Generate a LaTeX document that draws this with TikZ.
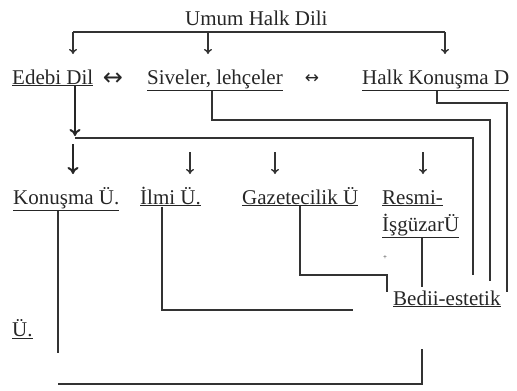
\documentclass[tikz,border=0pt]{standalone}
\usepackage{fontspec}
\setmainfont{Liberation Serif}
\newfontfamily\symfont{DejaVu Sans}
\usetikzlibrary{arrows.meta}
\begin{document}
\begin{tikzpicture}[x=1pt,y=-1pt,
  lbl/.style={inner sep=0pt,anchor=base west,text=black!85,font=\fontsize{21}{23}\selectfont},
  sym/.style={inner sep=0pt,anchor=center,text=black!85},
  ln/.style={line width=1.4pt,draw=black!80},
  arr/.style={ln,-{To[length=5pt,width=8pt]}},
  bigarr/.style={line width=2pt,draw=black!85,-{To[length=7pt,width=11pt]}}]
\useasboundingbox (0,0) rectangle (517,391);
% text nodes
\node[lbl] (umum) at (185,25) {Umum Halk Dili};
\node[lbl] (edebi) at (12,84) {\underline{Edebi Dil}};
\node[sym,font=\symfont\fontsize{24}{26}\selectfont] (lr1) at (113,79) {↔};
\node[lbl] (siv) at (147,84) {\underline{Siveler, lehçeler}};
\node[sym,font=\symfont\fontsize{17}{19}\selectfont] (lr2) at (312,79) {↔};
\node[lbl] (hk) at (362,84) {\underline{Halk Konuşma D}};
\node[lbl] (kon) at (13,204) {\underline{Konuşma Ü.}};
\node[lbl] (ilmi) at (140,204) {\underline{İlmi Ü.}};
\node[lbl] (gaz) at (242,204) {\underline{Gazetecilik Ü}};
\node[lbl] (resmi) at (382,204) {\underline{Resmi-}};
\node[lbl] (isg) at (382,231) {\underline{İşgüzarÜ}};
\node[lbl] (bed) at (393,305) {\underline{Bedii-estetik}};
\node[lbl] (u) at (12,336) {\underline{Ü.}};
\node[lbl,font=\fontsize{7}{8}\selectfont] (plus) at (383,259) {+};
% coordinates
\coordinate (bL) at (73,32);
\coordinate (bR) at (445,32);
\coordinate (bM) at (208,32);
\coordinate (eb) at (75,138);
\coordinate (eR) at (473,275);
% top distribution
\draw[ln] (bL) -- (bR);
\draw[arr] (bL) -- (73,54);
\draw[arr] (bM) -- (208,54);
\draw[arr] (bR) -- (445,54);
% Edebi Dil
\draw[bigarr] (edebi.south -| 75,0) -- (75,136);
\draw[ln] (eb) -- (473,138) -- (eR);
\draw[bigarr] (73,144) -- (73,174);
\draw[arr] (190,152) -- (190,174);
\draw[arr] (275,152) -- (275,174);
\draw[arr] (423,152) -- (423,174);
% Siveler
\draw[ln] (siv.south -| 212,0) -- (212,120) -- (490,120) -- (490,281);
% Halk Konusma
\draw[ln] (hk.south -| 437,0) -- (437,103) -- (507,103) -- (507,292);
% lower lines
\draw[ln] (kon.south -| 58,0) -- (58,353);
\draw[ln] (ilmi.south -| 162,0) -- (162,310) -- (353,310);
\draw[ln] (gaz.south -| 300,0) -- (300,275) -- (387,275) -- (387,292);
\draw[ln] (isg.south -| 422,0) -- (422,287);
\draw[ln] (58,384) -- (422,384) -- (422,349);
\end{tikzpicture}
\end{document}
